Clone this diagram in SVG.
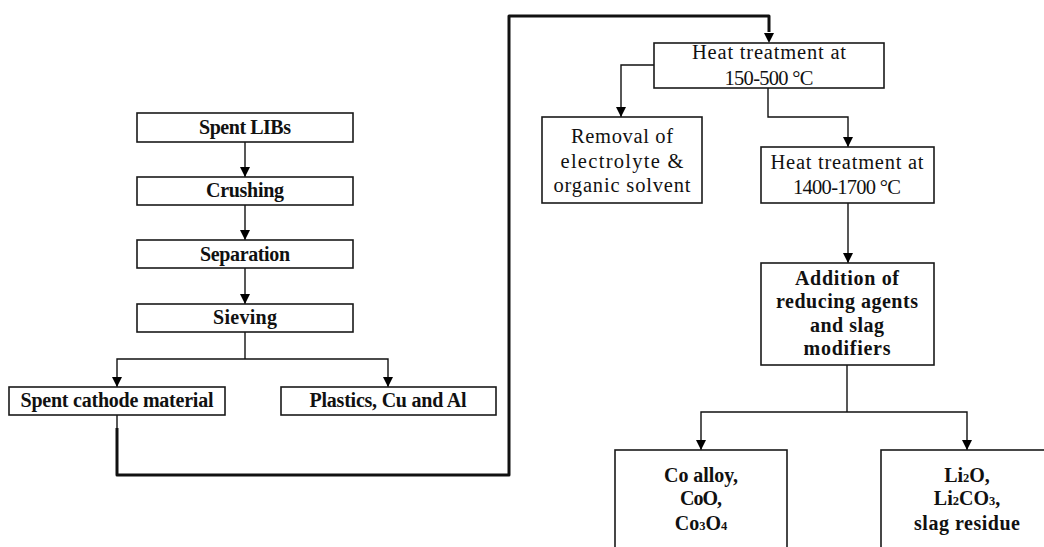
<svg xmlns="http://www.w3.org/2000/svg" width="1044" height="547" viewBox="0 0 1044 547">
<defs>
<marker id="ah" markerUnits="userSpaceOnUse" markerWidth="10" markerHeight="12" viewBox="0 0 10 12" refX="10" refY="5" orient="auto">
<path d="M0,0 L10,5 L0,10 Z" fill="#000"/>
</marker>
</defs>
<style>
.box{fill:#fff;stroke:#1a1a1a;stroke-width:1.6}
.t{font-family:"Liberation Serif","DejaVu Serif",serif;font-size:20px;fill:#111;text-anchor:middle}
.b{font-weight:bold}
.r{font-size:20.5px}
.c{fill:none;stroke:#111;stroke-width:1.4}
.ca{fill:none;stroke:#111;stroke-width:1.4;marker-end:url(#ah)}
.thick{fill:none;stroke:#111;stroke-width:3;stroke-linejoin:round}
.sub{font-size:12.5px}
</style>
<rect width="1044" height="547" fill="#fff"/>
<g id="connectors">
<line class="ca" x1="245" y1="142" x2="245" y2="177"/>
<line class="ca" x1="245" y1="205" x2="245" y2="240"/>
<line class="ca" x1="245" y1="268" x2="245" y2="304"/>
<polyline class="c" points="245,332 245,359"/>
<polyline class="ca" points="245,359 117,359 117,387"/>
<polyline class="ca" points="245,359 388,359 388,387"/>
<line class="c" x1="117" y1="415" x2="117" y2="429"/>
<polyline class="thick" points="117,428 117,475 509,475 509,16 769,16 769,32"/>
<path d="M764,33 L774,33 L769,43 Z" fill="#000"/>
<polyline class="ca" points="654,65 621,65 621,117"/>
<polyline class="ca" points="768,88 768,117 848,117 848,147"/>
<line class="ca" x1="848" y1="203" x2="848" y2="263"/>
<polyline class="c" points="847,365 847,412"/>
<polyline class="ca" points="847,412 701,412 701,450"/>
<polyline class="ca" points="847,412 967,412 967,450"/>
</g>
<g id="spent-libs">
<rect class="box" x="137" y="113" width="216" height="29"/>
<text class="t b" x="245" y="134" textLength="92" lengthAdjust="spacing">Spent LIBs</text>
</g>
<g id="crushing">
<rect class="box" x="137" y="177" width="216" height="28"/>
<text class="t b" x="245" y="197" textLength="78" lengthAdjust="spacing">Crushing</text>
</g>
<g id="separation">
<rect class="box" x="137" y="240" width="216" height="28"/>
<text class="t b" x="245" y="261" textLength="90" lengthAdjust="spacing">Separation</text>
</g>
<g id="sieving">
<rect class="box" x="137" y="304" width="216" height="28"/>
<text class="t b" x="245" y="324" textLength="64" lengthAdjust="spacing">Sieving</text>
</g>
<g id="spent-cathode">
<rect class="box" x="9" y="387" width="216" height="28"/>
<text class="t b" x="117" y="407" textLength="193" lengthAdjust="spacing">Spent cathode material</text>
</g>
<g id="plastics">
<rect class="box" x="281" y="387" width="215" height="28"/>
<text class="t b" x="388" y="407" textLength="157" lengthAdjust="spacing">Plastics, Cu and Al</text>
</g>
<g id="heat1">
<rect class="box" x="654" y="43" width="230" height="45"/>
<text class="t r" x="769" y="59" textLength="154" lengthAdjust="spacing">Heat treatment at</text>
<text class="t r" x="769" y="85" textLength="89" lengthAdjust="spacing">150-500 °C</text>
</g>
<g id="removal">
<rect class="box" x="542" y="117" width="160" height="86"/>
<text class="t r" x="622" y="143" textLength="102" lengthAdjust="spacing">Removal of</text>
<text class="t r" x="622" y="168" textLength="123" lengthAdjust="spacing">electrolyte &amp;</text>
<text class="t r" x="622" y="192" textLength="137" lengthAdjust="spacing">organic solvent</text>
</g>
<g id="heat2">
<rect class="box" x="761" y="147" width="173" height="56"/>
<text class="t r" x="847" y="169" textLength="153" lengthAdjust="spacing">Heat treatment at</text>
<text class="t r" x="847" y="194" textLength="108" lengthAdjust="spacing">1400-1700 °C</text>
</g>
<g id="addition">
<rect class="box" x="761" y="263" width="173" height="102"/>
<text class="t b" x="847" y="285" textLength="104" lengthAdjust="spacing">Addition of</text>
<text class="t b" x="847" y="308" textLength="142" lengthAdjust="spacing">reducing agents</text>
<text class="t b" x="847" y="332" textLength="74" lengthAdjust="spacing">and slag</text>
<text class="t b" x="847" y="355" textLength="87" lengthAdjust="spacing">modifiers</text>
</g>
<g id="co-products">
<rect class="box" x="615" y="450" width="172" height="110"/>
<text class="t b" x="701" y="482" textLength="74" lengthAdjust="spacing">Co alloy,</text>
<text class="t b" x="701" y="505" textLength="42" lengthAdjust="spacing">CoO,</text>
<text class="t b" x="701" y="530">Co<tspan class="sub">3</tspan>O<tspan class="sub">4</tspan></text>
</g>
<g id="li-products">
<rect class="box" x="881" y="450" width="175" height="110"/>
<text class="t b" x="967" y="482">Li<tspan class="sub">2</tspan>O,</text>
<text class="t b" x="967" y="505">Li<tspan class="sub">2</tspan>CO<tspan class="sub">3</tspan>,</text>
<text class="t b" x="967" y="530" textLength="106" lengthAdjust="spacing">slag residue</text>
</g>
</svg>
